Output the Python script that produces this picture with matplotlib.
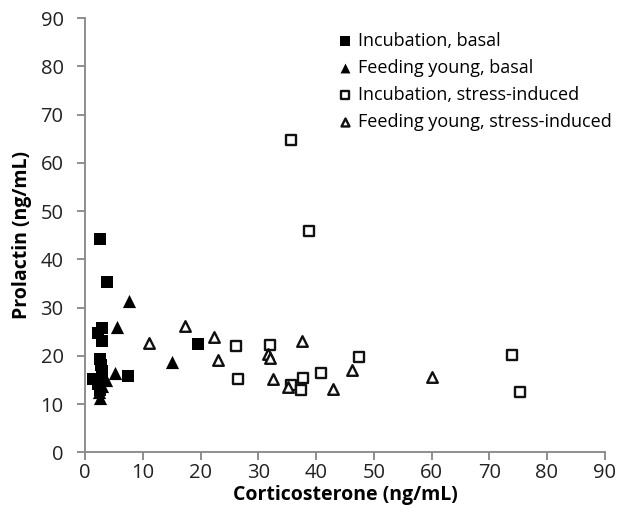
import matplotlib
matplotlib.use("Agg")
import matplotlib.pyplot as plt

# values
inc_basal_x = [2.6, 3.8, 3.0, 2.3, 3.0, 19.6, 7.4, 2.6, 2.8, 1.4, 3.0, 2.3, 2.6, 2.9]
inc_basal_y = [44.3, 35.4, 25.8, 24.7, 23.1, 22.4, 15.8, 19.3, 18.0, 15.2, 16.8, 14.2, 13.0, 15.5]

feed_basal_x = [7.6, 5.5, 15.1, 5.2, 3.6, 2.6, 2.4, 3.0]
feed_basal_y = [31.3, 26.0, 18.8, 16.5, 14.9, 11.2, 12.5, 13.8]

inc_stress_x = [35.6, 38.8, 26.1, 26.5, 32.0, 35.6, 37.7, 37.4, 40.8, 47.4, 73.9, 75.3]
inc_stress_y = [64.7, 45.9, 22.0, 15.1, 22.2, 13.9, 15.3, 13.0, 16.4, 19.8, 20.1, 12.4]

feed_stress_x = [11.1, 17.3, 22.3, 23.0, 31.6, 32.1, 37.5, 32.5, 35.1, 42.9, 46.2, 60.0]
feed_stress_y = [22.6, 26.1, 23.8, 19.1, 20.3, 19.6, 23.0, 15.1, 13.5, 13.2, 17.0, 15.5]

ticks = list(range(0, 91, 10))

plt.rcParams['font.family'] = ['Open Sans', 'DejaVu Sans']

fig = plt.figure(figsize=(6.26, 5.21), dpi=100)
ax = fig.add_axes([0.136, 0.132, 0.830, 0.833])

ax.scatter(inc_basal_x, inc_basal_y, marker='s', s=78, c='black', linewidths=0,
           label='Incubation, basal', zorder=3)
ax.scatter(feed_basal_x, feed_basal_y, marker='^', s=90, c='black', linewidths=0,
           label='Feeding young, basal', zorder=3)
ax.scatter(inc_stress_x, inc_stress_y, marker='s', s=52, facecolors='white',
           edgecolors='#111111', linewidths=1.7, label='Incubation, stress-induced', zorder=3)
ax.scatter(feed_stress_x, feed_stress_y, marker='^', s=58, facecolors='white',
           edgecolors='#111111', linewidths=1.7, label='Feeding young, stress-induced', zorder=3)

ax.set_xlim(0, 90)
ax.set_ylim(0, 90)
ax.set_xticks(ticks)
ax.set_yticks(ticks)

for s in ['top', 'right']:
    ax.spines[s].set_visible(False)
for s in ['left', 'bottom']:
    ax.spines[s].set_color('#868686')
    ax.spines[s].set_linewidth(1.3)
ax.tick_params(direction='out', length=5.5, width=1.3, color='#868686',
               labelsize=14.5, labelcolor='#222222')
ax.tick_params(axis='y', pad=10)
ax.tick_params(axis='x', pad=2)

ax.set_xlabel('Corticosterone (ng/mL)', fontsize=14, fontweight='bold', labelpad=2)
ax.set_ylabel('Prolactin (ng/mL)', fontsize=14, fontweight='bold', labelpad=6)

leg = ax.legend(loc='upper left', bbox_to_anchor=(0.475, 0.985), frameon=False,
                fontsize=13, handlelength=0.6, handletextpad=0.45,
                labelspacing=0.5, markerscale=0.75, borderaxespad=0)

fig.savefig('out.png', dpi=100)
